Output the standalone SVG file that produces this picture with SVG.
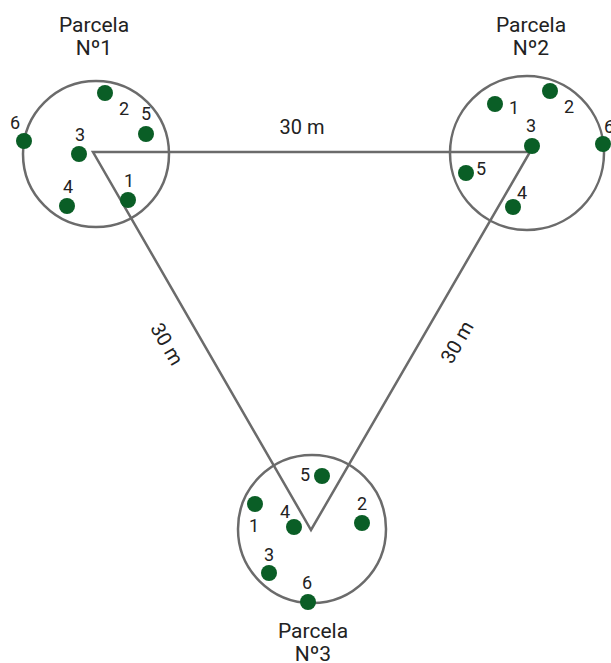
<svg xmlns="http://www.w3.org/2000/svg" width="611" height="663" viewBox="0 0 611 663">
<style>
.plot{fill:none;stroke:#6b6b6b;stroke-width:2.5}
.edge{fill:none;stroke:#6b6b6b;stroke-width:2.5}
.dot{fill:#0a5e26}
.t{font-family:Roboto,"Liberation Sans",sans-serif;fill:#222;text-anchor:middle}
.title{font-size:21px}
.num{font-size:18px}
.dist{font-size:20px}
</style>
<rect width="611" height="663" fill="#fff"/>
<g id="connectors">
<path class="edge" d="M93,152 L530,152 L311,530 Z" stroke-linejoin="miter"/>
<text class="t dist" x="302" y="134">30 m</text>
<text class="t dist" transform="translate(167,344) rotate(60)" y="7">30 m</text>
<text class="t dist" transform="translate(457,342) rotate(-60)" y="7">30 m</text>
</g>
<g id="parcela1">
<circle class="plot" cx="96" cy="154" r="73"/>
<text class="t title" x="94" y="32">Parcela</text>
<text class="t title" x="94" y="55">Nº1</text>
<circle class="dot" cx="128" cy="200" r="8"/><text class="t num" x="129" y="187">1</text>
<circle class="dot" cx="105" cy="93" r="8"/><text class="t num" x="124" y="115">2</text>
<circle class="dot" cx="79" cy="154" r="8"/><text class="t num" x="80" y="141">3</text>
<circle class="dot" cx="67" cy="206" r="8"/><text class="t num" x="68" y="193">4</text>
<circle class="dot" cx="146" cy="134" r="8"/><text class="t num" x="146" y="120">5</text>
<circle class="dot" cx="24" cy="141" r="8"/><text class="t num" x="15" y="129">6</text>
</g>
<g id="parcela2">
<circle class="plot" cx="527" cy="153" r="77"/>
<text class="t title" x="531" y="32">Parcela</text>
<text class="t title" x="531" y="55">Nº2</text>
<circle class="dot" cx="495" cy="104" r="8"/><text class="t num" x="514" y="114">1</text>
<circle class="dot" cx="550" cy="91" r="8"/><text class="t num" x="569" y="113">2</text>
<circle class="dot" cx="532" cy="146" r="8"/><text class="t num" x="531" y="132">3</text>
<circle class="dot" cx="513" cy="207" r="8"/><text class="t num" x="522" y="199">4</text>
<circle class="dot" cx="466" cy="173" r="8"/><text class="t num" x="481" y="175">5</text>
<circle class="dot" cx="603" cy="144" r="8"/><text class="t num" x="609" y="133">6</text>
</g>
<g id="parcela3">
<circle class="plot" cx="312" cy="529" r="74"/>
<text class="t title" x="313" y="638">Parcela</text>
<text class="t title" x="313" y="661">Nº3</text>
<circle class="dot" cx="255" cy="504" r="8"/><text class="t num" x="254" y="532">1</text>
<circle class="dot" cx="362" cy="523" r="8"/><text class="t num" x="362" y="510">2</text>
<circle class="dot" cx="269" cy="573" r="8"/><text class="t num" x="269" y="561">3</text>
<circle class="dot" cx="294" cy="527" r="8"/><text class="t num" x="285" y="518">4</text>
<circle class="dot" cx="322" cy="476" r="8"/><text class="t num" x="305" y="481">5</text>
<circle class="dot" cx="308" cy="602" r="8"/><text class="t num" x="307" y="589">6</text>
</g>
</svg>
